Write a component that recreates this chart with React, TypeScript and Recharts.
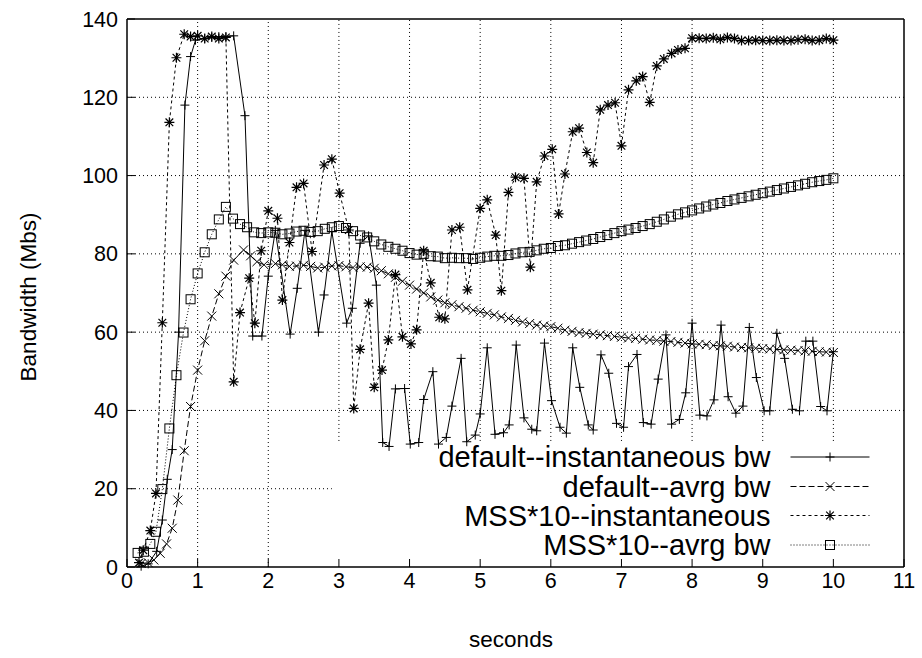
import React from 'react';
import { LineChart, Line, XAxis, YAxis, ReferenceLine, Legend } from 'recharts';

// ---------- data ----------
const X_TICKS = [0, 1, 2, 3, 4, 5, 6, 7, 8, 9, 10, 11];
const Y_TICKS = [0, 20, 40, 60, 80, 100, 120, 140];

const SERIES_NAMES = [
  'default--instantaneous bw',
  'default--avrg bw',
  'MSS*10--instantaneous',
  'MSS*10--avrg bw',
];

const DEF_INST_T = [0.2, 0.3, 0.42, 0.5, 0.57, 0.64, 0.73, 0.82, 0.9, 0.97, 1.1, 1.2, 1.3, 1.4, 1.51, 1.67, 1.78, 1.91, 2.0, 2.1,
  2.31, 2.41, 2.52, 2.71, 2.79, 2.9, 3.11, 3.19, 3.3, 3.42, 3.53, 3.62, 3.71, 3.8, 3.93, 4.01, 4.13, 4.2, 4.33, 4.41,
  4.52, 4.6, 4.73, 4.81, 4.93, 5.0, 5.1, 5.21, 5.33, 5.41, 5.51, 5.62, 5.73, 5.8, 5.91, 6.01, 6.13, 6.22, 6.31, 6.41,
  6.53, 6.6, 6.71, 6.82, 6.93, 7.03, 7.1, 7.22, 7.31, 7.42, 7.52, 7.63, 7.71, 7.82, 7.91, 8.0, 8.11, 8.21, 8.31, 8.41,
  8.51, 8.62, 8.72, 8.81, 8.91, 9.02, 9.1, 9.2, 9.31, 9.42, 9.52, 9.61, 9.71, 9.82, 9.91, 10.0];
const DEF_INST_V = [0.2, 0.8, 4, 12, 22.4, 30, 60, 118, 130.4, 134.6, 135, 135.3, 135.5, 135.5, 135.7, 115.3, 59, 59, 74.3, 86,
  59.5, 71.2, 86, 60, 69.5, 85.7, 62.3, 66.1, 82.7, 84.6, 72, 31.8, 30.8, 45.5, 45.6, 31.4, 31.8, 42.8, 49.9, 31.4,
  33.1, 41.1, 53.3, 32, 33.7, 39.1, 56, 33.9, 34.3, 36.3, 56.7, 38.1, 35.2, 34.8, 57.2, 42.5, 35.7, 34.2, 56, 45.9,
  36.3, 35, 54.2, 49.5, 36.7, 35.7, 51.2, 54.3, 36.9, 36.5, 48, 59.3, 36.5, 37.7, 44.5, 62.3, 38.8, 38.6, 42.7, 61.8,
  43.5, 39.3, 41.1, 61.2, 48.4, 39.9, 39.9, 59.7, 53.3, 40.3, 39.9, 57.7, 57.7, 41, 39.9, 55];

const DEF_AVG_T = [0.2, 0.3, 0.38, 0.47, 0.56, 0.64, 0.72, 0.81, 0.9, 1.0, 1.1, 1.2, 1.3, 1.4, 1.51, 1.65, 1.75, 1.84, 1.94,
  2.1, 2.2, 2.3, 2.4, 2.5, 2.6, 2.7, 2.8, 2.9, 3.0, 3.1, 3.2, 3.3, 3.4, 3.5, 3.6, 3.7, 3.8, 3.9,
  4.0, 4.1, 4.2, 4.3, 4.4, 4.5, 4.6, 4.7, 4.8, 4.9, 5.0, 5.1, 5.2, 5.3, 5.4, 5.5, 5.6, 5.7, 5.8, 5.9,
  6.0, 6.1, 6.2, 6.3, 6.4, 6.5, 6.6, 6.7, 6.8, 6.9, 7.0, 7.1, 7.2, 7.3, 7.4, 7.5, 7.6, 7.7, 7.8, 7.9,
  8.0, 8.1, 8.2, 8.3, 8.4, 8.5, 8.6, 8.7, 8.8, 8.9, 9.0, 9.1, 9.2, 9.3, 9.4, 9.5, 9.6, 9.7, 9.8, 9.9, 10.0];
const DEF_AVG_V = [0.9, 1.1, 1.8, 3.5, 5.9, 9.9, 17.1, 29.7, 41, 50.3, 57.8, 64.1, 69.8, 74.3, 78.4, 81, 79.5, 78, 77.2,
  77.5, 77.2, 76.8, 76.9, 77.1, 76.8, 76.4, 76.6, 76.9, 77.0, 76.7, 76.5, 76.7, 76.6, 76.3, 75.7, 74.9, 74.0, 73.0,
  72.0, 71.0, 70.0, 69.0, 68.2, 67.5, 67.0, 66.5, 66.1, 65.6, 65.2, 64.8, 64.4, 63.9, 63.5, 63.0, 62.6, 62.2, 61.8, 61.6,
  61.4, 61.0, 60.5, 60.2, 59.9, 59.7, 59.5, 59.3, 59.1, 58.9, 58.7, 58.5, 58.4, 58.2, 58.0, 57.9, 57.7, 57.6, 57.4, 57.2,
  57.0, 56.9, 56.8, 56.6, 56.5, 56.4, 56.2, 56.1, 56.0, 55.9, 55.8, 55.7, 55.6, 55.5, 55.4, 55.3, 55.2, 55.1, 55.0, 54.9, 54.8];

const MSS_INST_T = [0.17, 0.23, 0.33, 0.41, 0.5, 0.6, 0.7, 0.81, 0.9, 1.0, 1.1, 1.2, 1.3, 1.4, 1.51, 1.6, 1.73, 1.81, 1.9, 2.0,
  2.13, 2.2, 2.3, 2.4, 2.5, 2.62, 2.79, 2.9, 3.01, 3.14, 3.21, 3.3, 3.42, 3.5, 3.61, 3.7, 3.8, 3.9, 4.02, 4.1,
  4.2, 4.3, 4.42, 4.5, 4.6, 4.71, 4.82, 5.0, 5.1, 5.22, 5.3, 5.4, 5.5, 5.62, 5.71, 5.8, 5.91, 6.02, 6.11, 6.2,
  6.31, 6.4, 6.51, 6.6, 6.7, 6.81, 6.91, 7.0, 7.1, 7.21, 7.3, 7.4, 7.5, 7.6, 7.71, 7.8, 7.9, 8.0, 8.1, 8.2,
  8.3, 8.4, 8.5, 8.6, 8.7, 8.8, 8.9, 9.0, 9.1, 9.2, 9.3, 9.4, 9.5, 9.6, 9.7, 9.8, 9.9, 10.0];
const MSS_INST_V = [1.1, 4.3, 9.3, 18.8, 62.4, 113.6, 130.1, 136.1, 135.5, 135.7, 135, 135.5, 135, 135.3, 47.3, 65, 73.8, 62.3, 80.8, 91,
  89.1, 68.2, 82.9, 97, 98, 80.6, 102.7, 104.2, 95.5, 86.1, 40.5, 55.6, 67.4, 45.9, 50.3, 58, 74.7, 58.8, 57, 60.6,
  80.8, 72.6, 63.8, 63.4, 86.1, 86.8, 70.8, 91.6, 93.8, 84.8, 70.6, 95.7, 99.6, 99.3, 76.6, 98.4, 105, 106.7, 90.2, 100.4,
  111.2, 112.1, 105.9, 103.3, 116.8, 118, 118.6, 107.6, 121.9, 124.2, 125.3, 118.7, 128, 129.8, 131.2, 132.1, 132.5, 135.1, 135.1, 135,
  135.2, 134.8, 135.3, 135, 134.5, 134.5, 134.6, 134.5, 134.5, 134.6, 134.5, 134.5, 134.7, 134.8, 134.5, 134.6, 135, 134.6];

const MSS_AVG_T = [0.15, 0.24, 0.33, 0.41, 0.5, 0.6, 0.7, 0.8, 0.9, 1.0, 1.1, 1.2, 1.3, 1.4, 1.5, 1.6, 1.7, 1.8, 1.9,
  2.0, 2.1, 2.2, 2.3, 2.4, 2.5, 2.6, 2.7, 2.8, 2.9, 3.0, 3.1, 3.2, 3.3, 3.4, 3.5, 3.6, 3.7, 3.8, 3.9,
  4.0, 4.1, 4.2, 4.3, 4.4, 4.5, 4.6, 4.7, 4.8, 4.9, 5.0, 5.1, 5.2, 5.3, 5.4, 5.5, 5.6, 5.7, 5.8, 5.9,
  6.0, 6.1, 6.2, 6.3, 6.4, 6.5, 6.6, 6.7, 6.8, 6.9, 7.0, 7.1, 7.2, 7.3, 7.4, 7.5, 7.6, 7.7, 7.8, 7.9,
  8.0, 8.1, 8.2, 8.3, 8.4, 8.5, 8.6, 8.7, 8.8, 8.9, 9.0, 9.1, 9.2, 9.3, 9.4, 9.5, 9.6, 9.7, 9.8, 9.9, 10.0];
const MSS_AVG_V = [3.6, 3.9, 5.9, 9.0, 19.9, 35.4, 49, 59.9, 68.4, 75, 80.4, 85, 88.8, 92, 89, 87.6, 86.8, 85.5, 85.3,
  85.5, 85.4, 85.0, 85.2, 85.7, 85.9, 85.6, 85.8, 86.4, 86.8, 87.1, 86.6, 85.8, 84.7, 84.2, 83.2, 82.4, 81.8, 81.3, 80.8,
  80.2, 79.8, 80.0, 79.4, 79.3, 78.9, 79.0, 78.9, 78.9, 78.7, 79.0, 79.3, 79.5, 79.5, 79.7, 80.1, 80.4, 80.5, 80.9, 81.3,
  81.5, 82.0, 82.2, 82.6, 83.0, 83.4, 83.8, 84.3, 84.8, 85.3, 85.8, 86.2, 86.6, 87.1, 87.6, 88.2, 88.8, 89.5, 90.1, 90.6,
  91.1, 91.6, 92.1, 92.6, 93.0, 93.5, 93.9, 94.3, 94.7, 95.1, 95.5, 95.9, 96.3, 96.7, 97.1, 97.5, 97.9, 98.3, 98.6, 98.9, 99.3];

const zip = (t: number[], v: number[]) => t.map((x, i) => ({ t: x, v: v[i] }));
const defInst = zip(DEF_INST_T, DEF_INST_V);
const defAvg = zip(DEF_AVG_T, DEF_AVG_V);
const mssInst = zip(MSS_INST_T, MSS_INST_V);
const mssAvg = zip(MSS_AVG_T, MSS_AVG_V);

// ---------- style ----------
const FONT = "'Liberation Sans', Arial, Helvetica, sans-serif";
const TICK_FONT = 21.5;
const TITLE_FONT = 22.5;
const KEY_FONT = 29;
const TICK_LEN = 8;
const DASH = ['', '6 3', '3 3', '1 2'];
// key area (grid is cleared there, as gnuplot does)
const KEY_X = 2.9;
const KEY_Y = 32.2;

// ---------- markers ----------
const M = 4.5;
const plusPath = (cx: number, cy: number, s: number) => `M${cx - s},${cy}H${cx + s}M${cx},${cy - s}V${cy + s}`;
const crossPath = (cx: number, cy: number, s: number) => `M${cx - s},${cy - s}L${cx + s},${cy + s}M${cx - s},${cy + s}L${cx + s},${cy - s}`;

const Marker = ({ kind, cx, cy }: { kind: number; cx: number; cy: number }) => {
  if (cx == null || cy == null) return null;
  if (kind === 0) return <path d={plusPath(cx, cy, M)} stroke="#000" strokeWidth={1} fill="none" />;
  if (kind === 1) return <path d={crossPath(cx, cy, M)} stroke="#000" strokeWidth={1} fill="none" />;
  if (kind === 2) return <path d={plusPath(cx, cy, M + 0.5) + crossPath(cx, cy, M * 0.85)} stroke="#000" strokeWidth={1.2} fill="none" />;
  return <rect x={cx - 4.5} y={cy - 4.5} width={9} height={9} stroke="#000" strokeWidth={1} fill="none" />;
};

const dotFor = (kind: number) => (p: any) => <Marker key={`m${kind}-${p.index}`} kind={kind} cx={p.cx} cy={p.cy} />;

// ---------- ticks ----------
const BottomTick = (p: any) => (
  <g>
    <line x1={p.x} y1={p.y} x2={p.x} y2={p.y - TICK_LEN} stroke="#000" strokeWidth={1} />
    <text x={p.x} y={p.y + 21} textAnchor="middle" fontFamily={FONT} fontSize={TICK_FONT} fill="#000">{p.payload.value}</text>
  </g>
);
const TopTick = (p: any) => (
  <line x1={p.x} y1={p.y} x2={p.x} y2={p.y + TICK_LEN} stroke="#000" strokeWidth={1} />
);
const LeftTick = (p: any) => (
  <g>
    <line x1={p.x} y1={p.y} x2={p.x + TICK_LEN} y2={p.y} stroke="#000" strokeWidth={1} />
    <text x={p.x - 9} y={p.y + 7.5} textAnchor="end" fontFamily={FONT} fontSize={TICK_FONT} fill="#000">{p.payload.value}</text>
  </g>
);
const RightTick = (p: any) => (
  <line x1={p.x} y1={p.y} x2={p.x - TICK_LEN} y2={p.y} stroke="#000" strokeWidth={1} />
);

const XTitle = () => (
  <text x={511} y={647} textAnchor="middle" fontFamily={FONT} fontSize={TITLE_FONT} fill="#000">seconds</text>
);
const YTitle = () => (
  <text x={0} y={0} transform="translate(36,297) rotate(-90)" textAnchor="middle" fontFamily={FONT} fontSize={TITLE_FONT} fill="#000">Bandwidth (Mbs)</text>
);

const KeyBox = () => {
  const rows = [22, 51.5, 80.5, 110];
  return (
    <svg width={500} height={130} style={{ display: 'block', overflow: 'visible' }}>
      {SERIES_NAMES.map((name, i) => (
        <g key={name}>
          <text x={370.5} y={rows[i] + 10} textAnchor="end" fontFamily={FONT} fontSize={KEY_FONT} fill="#000">{name}</text>
          <line x1={390.5} y1={rows[i]} x2={469.5} y2={rows[i]} stroke="#000" strokeWidth={1} strokeDasharray={DASH[i] || undefined} />
          <Marker kind={i} cx={430} cy={rows[i]} />
        </g>
      ))}
    </svg>
  );
};

const gridStyle = { stroke: '#000', strokeWidth: 1, strokeDasharray: '1 3' };

export default function App() {
  const innerX = X_TICKS.slice(1, -1);
  const innerY = Y_TICKS.slice(1, -1);
  return (
    <div style={{ position: 'absolute', left: 0, top: 0, width: 922, height: 658, background: '#fff' }}>
      <LineChart width={922} height={658} margin={{ top: 0, right: 0, bottom: 0, left: 0 }}>
        <XAxis xAxisId="b" type="number" dataKey="t" domain={[0, 11]} ticks={X_TICKS} height={91}
          tickSize={0} tickMargin={0} tick={<BottomTick />} tickLine={false}
          axisLine={{ stroke: '#000', strokeWidth: 1.5 }} interval={0} label={<XTitle />} />
        <XAxis xAxisId="t" orientation="top" type="number" dataKey="t" domain={[0, 11]} ticks={X_TICKS} height={19}
          tickSize={0} tickMargin={0} tick={<TopTick />} tickLine={false}
          axisLine={{ stroke: '#000', strokeWidth: 1.5 }} interval={0} />
        <YAxis yAxisId="l" type="number" domain={[0, 140]} ticks={Y_TICKS} width={127}
          tickSize={0} tickMargin={0} tick={<LeftTick />} tickLine={false}
          axisLine={{ stroke: '#000', strokeWidth: 1.5 }} interval={0} label={<YTitle />} />
        <YAxis yAxisId="r" orientation="right" type="number" domain={[0, 140]} ticks={Y_TICKS} width={18}
          tickSize={0} tickMargin={0} tick={<RightTick />} tickLine={false}
          axisLine={{ stroke: '#000', strokeWidth: 1.5 }} interval={0} />

        {innerX.map((x) => (
          <ReferenceLine key={`gx${x}`} xAxisId="b" yAxisId="l" ifOverflow="visible"
            segment={[{ x, y: x > KEY_X ? KEY_Y : 0 }, { x, y: 140 }]} {...gridStyle} />
        ))}
        {innerY.map((y) => (
          <ReferenceLine key={`gy${y}`} xAxisId="b" yAxisId="l" ifOverflow="visible"
            segment={[{ x: 0, y }, { x: y < KEY_Y ? KEY_X : 11, y }]} {...gridStyle} />
        ))}

        <Line xAxisId="b" yAxisId="l" data={defInst} dataKey="v" name={SERIES_NAMES[0]} type="linear"
          stroke="#000" strokeWidth={1} dot={dotFor(0)} activeDot={false} isAnimationActive={false} />
        <Line xAxisId="b" yAxisId="l" data={defAvg} dataKey="v" name={SERIES_NAMES[1]} type="linear"
          stroke="#000" strokeWidth={1} strokeDasharray={DASH[1]} dot={dotFor(1)} activeDot={false} isAnimationActive={false} />
        <Line xAxisId="b" yAxisId="l" data={mssInst} dataKey="v" name={SERIES_NAMES[2]} type="linear"
          stroke="#000" strokeWidth={1} strokeDasharray={DASH[2]} dot={dotFor(2)} activeDot={false} isAnimationActive={false} />
        <Line xAxisId="b" yAxisId="l" data={mssAvg} dataKey="v" name={SERIES_NAMES[3]} type="linear"
          stroke="#000" strokeWidth={1} strokeDasharray={DASH[3]} dot={dotFor(3)} activeDot={false} isAnimationActive={false} />

        <Legend layout="horizontal" verticalAlign="middle" align="center" content={<KeyBox />}
          wrapperStyle={{ position: 'absolute', left: 400, top: 435, width: 500, height: 130, pointerEvents: 'none' }} />
      </LineChart>
    </div>
  );
}
